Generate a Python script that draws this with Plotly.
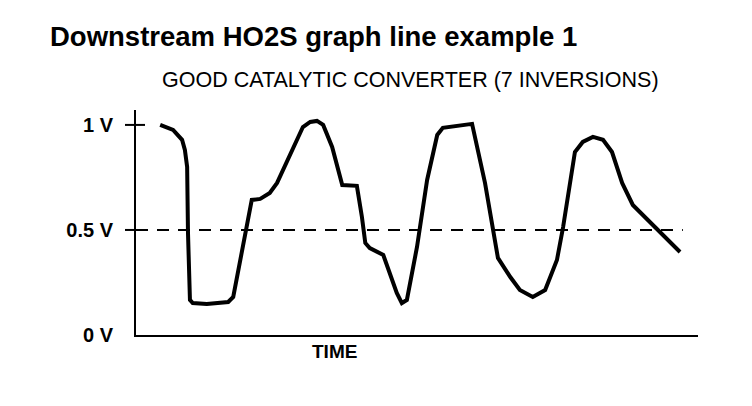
import plotly.graph_objects as go

# ---- data (time in arbitrary units 0-100, volts) ----
time = [4.3, 6.6, 8.2, 8.7, 9.1, 9.25, 9.6, 10.1, 12.6, 16.4, 17.3, 19.4, 20.6,
        22.1, 23.8, 25.1, 29.7, 31.0, 32.2, 33.3, 34.9, 36.7, 39.3, 40.2, 40.8,
        41.6, 44.0, 46.4, 47.3, 48.2, 50.0, 51.8, 53.6, 54.6, 57.1, 59.8, 62.1,
        63.5, 64.4, 66.6, 68.3, 70.6, 72.8, 74.9, 76.0, 78.1, 79.5, 81.3, 83.1,
        84.7, 86.5, 88.4, 90.2, 92.7, 96.8]
volts = [1.000, 0.976, 0.929, 0.881, 0.800, 0.486, 0.167, 0.152, 0.148, 0.157,
         0.181, 0.486, 0.643, 0.648, 0.676, 0.724, 0.990, 1.014, 1.019, 1.000,
         0.895, 0.714, 0.710, 0.562, 0.438, 0.414, 0.381, 0.200, 0.152, 0.167,
         0.419, 0.738, 0.952, 0.986, 0.995, 1.005, 0.724, 0.500, 0.367, 0.276,
         0.214, 0.181, 0.214, 0.357, 0.514, 0.871, 0.919, 0.943, 0.929, 0.871,
         0.724, 0.619, 0.571, 0.510, 0.395]

threshold_v = 0.5
threshold_x = [0, 97.3]
tick_vals = [0, 0.5, 1]
tick_text = ["0 V", "0.5 V", "1 V"]
tick_marks = [0.5, 1]

title_text = "Downstream HO2S graph line example 1"
subtitle_text = "GOOD CATALYTIC CONVERTER (7 INVERSIONS)"
x_label = "TIME"

FONT = "Liberation Sans, Arial, Helvetica, sans-serif"

fig = go.Figure()
fig.add_trace(go.Scatter(
    x=threshold_x, y=[threshold_v] * len(threshold_x), mode="lines",
    line=dict(color="black", width=2, dash="12px,9px"), hoverinfo="skip"))
fig.add_trace(go.Scatter(
    x=time, y=volts, mode="lines",
    line=dict(color="black", width=4), hoverinfo="skip"))

# tick marks (the 1 V tick crosses the axis)
for v in tick_marks:
    fig.add_shape(type="line", xref="paper", yref="y",
                  x0=-11 / 562, x1=(9 / 562 if v == 1 else 0), y0=v, y1=v,
                  line=dict(color="black", width=2))

# page body has an 8px margin, so the figure is 8px smaller and shifted
fig.update_layout(
    width=744, height=398,
    margin=dict(l=128, r=54, t=102, b=71),
    paper_bgcolor="white", plot_bgcolor="white",
    showlegend=False,
    font=dict(family=FONT, color="black"),
    xaxis=dict(range=[0, 100], showgrid=False, zeroline=False,
               showline=True, linecolor="black", linewidth=2,
               showticklabels=False, ticks=""),
    yaxis=dict(range=[0, 1.071], showgrid=False, zeroline=False,
               showline=True, linecolor="black", linewidth=2,
               tickvals=tick_vals, ticktext=["<b>" + t + "</b>" for t in tick_text],
               ticks="", ticklabelstandoff=17,
               tickfont=dict(size=20, family=FONT, color="black")),
    annotations=[
        dict(text="<b>" + title_text + "</b>", xref="paper", yref="paper",
             x=(48 - 136) / 562, y=(335 - 37) / 225, xanchor="left",
             yanchor="middle", showarrow=False,
             font=dict(size=27.5, family=FONT, color="black")),
        dict(text=subtitle_text, xref="paper", yref="paper",
             x=(410 - 136) / 562, y=(335 - 80) / 225, xanchor="center",
             yanchor="middle", showarrow=False,
             font=dict(size=21.5, family=FONT, color="black")),
        dict(text="<b>" + x_label + "</b>", xref="paper", yref="paper",
             x=(334 - 136) / 562, y=(335 - 351) / 225, xanchor="center",
             yanchor="middle", showarrow=False,
             font=dict(size=19, family=FONT, color="black")),
    ],
)

fig.write_html("out.html")
